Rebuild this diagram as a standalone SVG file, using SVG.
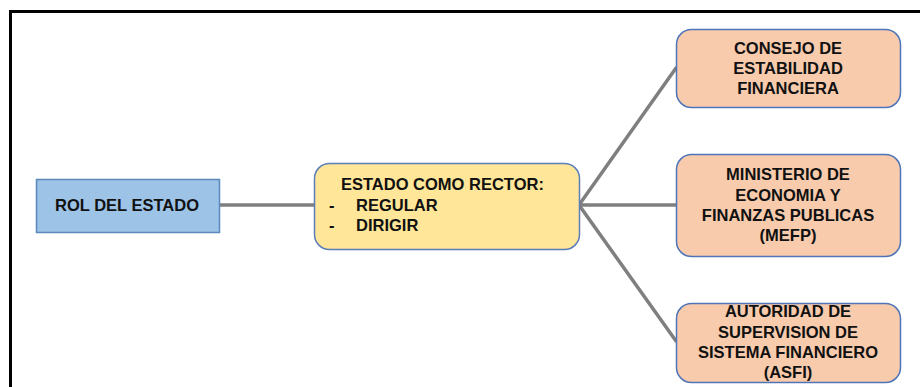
<svg xmlns="http://www.w3.org/2000/svg" width="920" height="387" viewBox="0 0 920 387">
<style>
.t{font-family:"Liberation Sans",Arial,sans-serif;font-weight:bold;font-size:16.5px;fill:#111111}
.c{text-anchor:middle}
.con{stroke:#7f7f7f;stroke-width:3.5;fill:none;stroke-linecap:round}
.org{fill:#f8cbad;stroke:#4f74b8;stroke-width:1.5}
</style>
<rect x="0" y="0" width="920" height="387" fill="#ffffff"/>
<g id="frame">
<path d="M10.5 387 V11.5 H920" fill="none" stroke="#000" stroke-width="3"/>
</g>
<g id="connectors">
<line class="con" x1="219" y1="205" x2="314" y2="205"/>
<line class="con" x1="579" y1="205" x2="676" y2="68"/>
<line class="con" x1="579" y1="205" x2="676" y2="205"/>
<line class="con" x1="579" y1="205" x2="676" y2="341"/>
</g>
<g id="rol">
<rect x="36.5" y="179.5" width="183" height="53" fill="#9dc3e6" stroke="#5b88bd" stroke-width="1.5"/>
<text class="t c" x="127" y="211">ROL DEL ESTADO</text>
</g>
<g id="rector">
<rect x="314.5" y="163.5" width="265" height="86" rx="15" fill="#ffe699" stroke="#5b7db8" stroke-width="1.5"/>
<text class="t" x="341" y="190">ESTADO COMO RECTOR:</text>
<text class="t" x="329" y="211">-</text>
<text class="t" x="356" y="211">REGULAR</text>
<text class="t" x="329" y="231">-</text>
<text class="t" x="356" y="231">DIRIGIR</text>
</g>
<g id="consejo">
<rect class="org" x="676.5" y="29.5" width="224" height="78" rx="15"/>
<text class="t c" x="788" y="54">CONSEJO DE</text>
<text class="t c" x="788" y="74">ESTABILIDAD</text>
<text class="t c" x="788" y="94">FINANCIERA</text>
</g>
<g id="mefp">
<rect class="org" x="676.5" y="154.5" width="224" height="102" rx="15"/>
<text class="t c" x="788" y="180">MINISTERIO DE</text>
<text class="t c" x="788" y="200.5">ECONOMIA Y</text>
<text class="t c" x="788" y="221">FINANZAS PUBLICAS</text>
<text class="t c" x="788" y="241">(MEFP)</text>
</g>
<g id="asfi">
<rect class="org" x="676.5" y="303.5" width="224" height="79" rx="15"/>
<text class="t c" x="788" y="317">AUTORIDAD DE</text>
<text class="t c" x="788" y="338">SUPERVISION DE</text>
<text class="t c" x="788" y="358">SISTEMA FINANCIERO</text>
<text class="t c" x="788" y="378">(ASFI)</text>
</g>
</svg>
